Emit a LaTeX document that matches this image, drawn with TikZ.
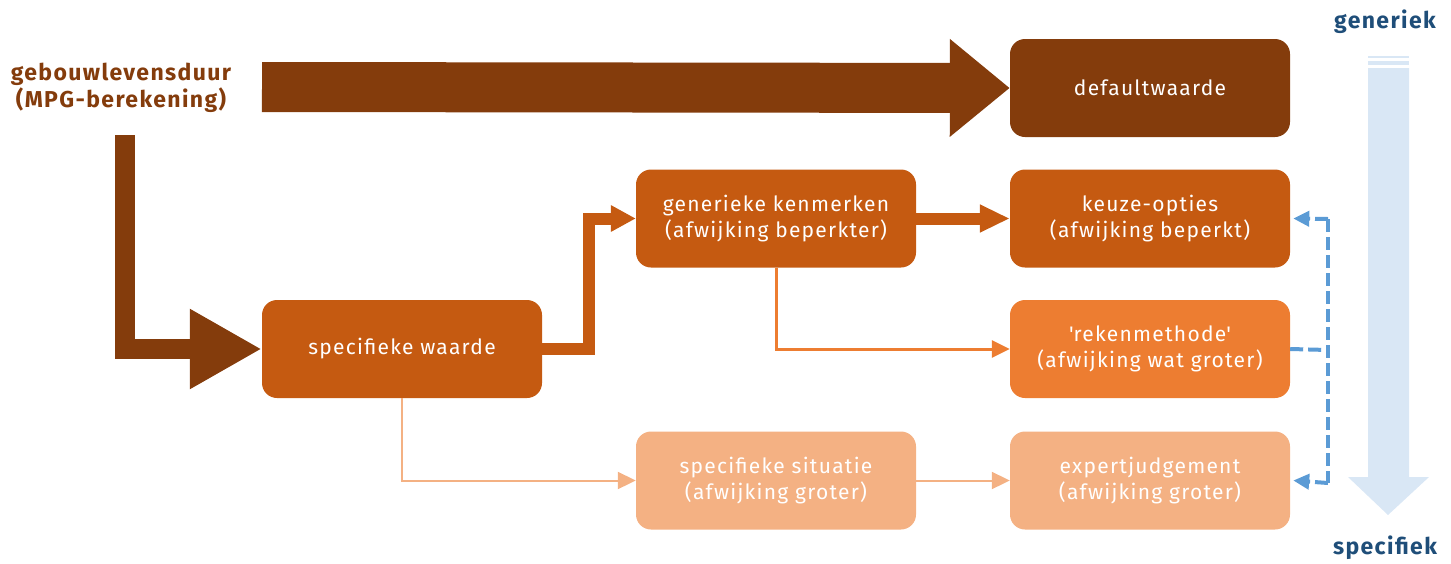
\documentclass[tikz,border=0pt]{standalone}
\usepackage{fontspec}
\setmainfont{Fira Sans}[LetterSpace=6]
\usetikzlibrary{arrows.meta,calc}
\definecolor{dbrown}{HTML}{843C0C}
\definecolor{morange}{HTML}{C55A11}
\definecolor{lorange}{HTML}{ED7D31}
\definecolor{porange}{HTML}{F4B183}
\definecolor{dblue}{HTML}{5B9BD5}
\definecolor{lblue}{HTML}{D9E7F5}
\definecolor{tblue}{HTML}{1F4E79}
\tikzset{
  box/.style={rounded corners=15pt, minimum width=280pt, minimum height=98pt,
    inner sep=0pt, text=white, align=center, font=\fontsize{21}{26}\selectfont},
  lbl/.style={font=\fontsize{23}{27}\selectfont\bfseries, align=center, inner sep=0pt},
  thinarrow/.style={-{Triangle[length=18pt,width=17pt]}},
  bluedash/.style={dblue, line width=4pt, dash pattern=on 13pt off 5pt},
}
\begin{document}
\begin{tikzpicture}[x=1pt,y=-1pt]
\useasboundingbox (0,0) rectangle (1451,563);
% boxes
\node[box, fill=dbrown] (def) at (1150,88) {defaultwaarde};
\node[box, fill=morange] (spec) at (402,349) {specifieke waarde};
\node[box, fill=morange] (gen) at (776,218.5) {generieke kenmerken\\(afwijking beperkter)};
\node[box, fill=morange] (keu) at (1150,218.5) {keuze-opties\\(afwijking beperkt)};
\node[box, fill=lorange] (rek) at (1150,349) {\textquotesingle rekenmethode\textquotesingle\\(afwijking wat groter)};
\node[box, fill=porange] (sit) at (776,480.5) {specifieke situatie\\(afwijking groter)};
\node[box, fill=porange] (exp) at (1150,480.5) {expertjudgement\\(afwijking groter)};
% labels
\node[lbl, text=dbrown] (gld) at (121,88) {gebouwlevensduur\\(MPG-berekening)};
\node[lbl, text=tblue] (gnr) at (1385,22) {generiek};
\node[lbl, text=tblue] (spf) at (1385,548) {specifiek};
% big arrows
\coordinate (a1) at (262,87);
\draw[dbrown, line width=50pt, -{Triangle[length=60pt,width=94pt]}] (a1) -- (def.west);
\coordinate (a2) at (125,135);
\draw[dbrown, line width=20pt, -{Triangle[length=72pt,width=75pt]}] (a2) |- (spec.west);
\draw[morange, line width=12pt, -{Triangle[length=25pt,width=25pt]}]
  (spec.east) -- ($(spec.east)+(47,0)$) |- (gen.west);
\draw[morange, line width=12pt, -{Triangle[length=30pt,width=26pt]}] (gen.east) -- (keu.west);
% thin arrows
\draw[lorange, line width=3pt, thinarrow] (gen.south) |- (rek.west);
\draw[porange, line width=2pt, thinarrow] (spec.south) |- (sit.west);
\draw[porange, line width=2pt, thinarrow] (sit.east) -- (exp.west);
% blue dashed bracket
\coordinate (b1) at (1328,219);
\coordinate (b2) at (1328,483);
\coordinate (bm) at (1328,350);
\draw[bluedash] (rek.east) -- (bm);
\draw[bluedash] (b1) -- (b2);
\draw[bluedash, -{Triangle[length=16pt,width=15pt]}] (b1) -- ($(keu.east)+(3,0)$);
\draw[bluedash, -{Triangle[length=16pt,width=15pt]}] (b2) -- ($(exp.east)+(3,0)$);
% light blue big arrow
\fill[lblue] (1368,56) rectangle (1409,58);
\fill[lblue] (1368,61) rectangle (1409,65);
\fill[lblue] (1368,68) -- (1409,68) -- (1409,477) -- (1429,477) -- (1388,515) -- (1348,477) -- (1368,477) -- cycle;
\end{tikzpicture}
\end{document}
